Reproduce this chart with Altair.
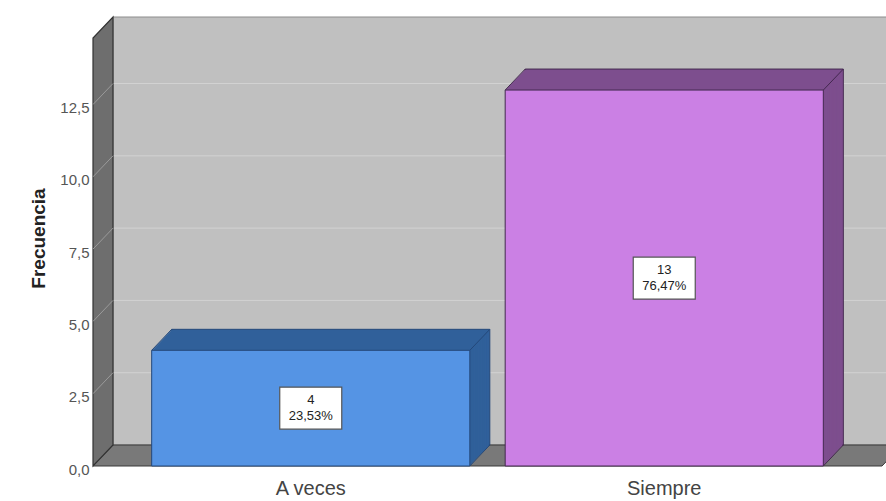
import altair as alt
import pandas as pd

# ---- data ----
categories = ["A veces", "Siempre"]
counts = [4, 13]
percent_labels = ["23,53%", "76,47%"]
front_colors = ["#5594E4", "#CB80E4"]
dark_colors = ["#30609A", "#7D4E8E"]
edge_colors = ["#24487A", "#43284F"]
tick_values = [0, 2.5, 5, 7.5, 10, 12.5]
grid_values = [2.5, 5, 7.5, 10, 12.5]

# ---- layout (pixels) ----
W, H = 789, 428          # front plane of the 3D box
DX, DY = 20, -21         # depth offset of the 3D effect
YMAX = 14.8
P_IN, P_OUT = 0.1, 0.166
step = W / (len(categories) - P_IN + 2 * P_OUT)
BW = step * (1 - P_IN)   # bar width in pixels
N = 21                   # extrusion steps
FONT = "Liberation Sans"

bars = pd.DataFrame({
    "cat": categories, "count": counts, "pct": percent_labels,
    "front": front_colors, "dark": dark_colors, "edge": edge_colors,
})
bars["mid"] = bars["count"] / 2
grid = pd.DataFrame({"v": grid_values})
one = pd.DataFrame({"k": [0]})

x_scale = alt.Scale(domain=categories, paddingInner=P_IN, paddingOuter=P_OUT)
y_scale = alt.Scale(domain=[0, YMAX], nice=False, zero=True)
x_axis = alt.Axis(title=None, domain=False, ticks=False, labelAngle=0,
                  labelFontSize=20, labelColor="#444", labelPadding=12,
                  labelFont=FONT)
y_axis = alt.Axis(title="Frecuencia", values=tick_values,
                  labelExpr="replace(format(datum.value, '.1f'), '.', ',')",
                  domain=False, ticks=False, grid=False, labelPadding=4,
                  labelOffset=3, labelFontSize=15, labelColor="#555",
                  labelFont=FONT, titleFont=FONT, titleFontSize=19,
                  titleFontWeight="bold", titleColor="#222",
                  titleX=-55, titleY=200, titleAngle=-90,
                  titleAlign="center", titleBaseline="middle")


def X():
    return alt.X("cat:N", scale=x_scale, axis=x_axis, sort=categories)


def Y(field):
    return alt.Y(field, type="quantitative", scale=y_scale, axis=y_axis)


def Y0():
    return alt.YDatum(0, scale=y_scale, axis=y_axis)


def poly(path, fill, stroke, sw=1):
    return alt.Chart(one).mark_point(
        shape=path, size=4, filled=True, opacity=1, fill=fill,
        stroke=stroke, strokeWidth=sw
    ).encode(x=alt.value(0), y=Y0())


back_wall = poly(f"M{DX},{DY} L{W + DX + 40},{DY} L{W + DX + 40},{DY - H} L{DX},{DY - H} Z",
                 "#C0C0C0", "#8C8C8C")
floor = poly(f"M0,0 L{DX},{DY} L{W + DX},{DY} L{W},0 Z", "#797979", "#3A3A3A")
left_wall = poly(f"M0,0 L0,{-H} L{DX},{DY - H} L{DX},{DY} Z", "#6E6E6E", "#333333", 1.2)

back_grid = alt.Chart(grid).mark_rule(
    color="#D2D2D2", strokeWidth=1,
    xOffset=DX, x2Offset=DX + 40, yOffset=DY, y2Offset=DY
).encode(x=alt.value(0), x2=alt.value("width"), y=Y("v"))

wall_ticks = alt.Chart(grid).mark_rule(
    color="#9A9A9A", strokeWidth=1, x2Offset=DX, y2Offset=DY
).encode(x=alt.value(0), x2=alt.value(0), y=Y("v"), y2=alt.Y2("v"))

layers = [back_wall, back_grid, floor, left_wall, wall_ticks]

# extrusion of each bar (top and side faces)
for i in range(N, 0, -1):
    t = i / N
    props = dict(xOffset=t * DX, yOffset=t * DY, y2Offset=t * DY)
    if i == N:
        props.update(strokeWidth=1)
        enc_stroke = alt.Stroke("edge:N", scale=None)
    else:
        props.update(strokeWidth=0)
        enc_stroke = alt.value(None)
    layers.append(
        alt.Chart(bars).mark_bar(**props).encode(
            x=X(), y=Y("count"), y2=alt.Y2Datum(0),
            fill=alt.Fill("dark:N", scale=None), stroke=enc_stroke)
    )

# front faces
layers.append(
    alt.Chart(bars).mark_bar(strokeWidth=1).encode(
        x=X(), y=Y("count"), y2=alt.Y2Datum(0),
        fill=alt.Fill("front:N", scale=None),
        stroke=alt.Stroke("edge:N", scale=None))
)

# slanted edges of the bars
for xo, field in [(BW / 2, "count"), (-BW / 2, "count")]:
    layers.append(
        alt.Chart(bars).mark_rule(strokeWidth=1, xOffset=xo, x2Offset=xo + DX, y2Offset=DY).encode(
            x=X(), x2=alt.X2("cat"), y=Y(field), y2=alt.Y2(field),
            color=alt.Color("edge:N", scale=None))
    )
layers.append(
    alt.Chart(bars).mark_rule(strokeWidth=1, xOffset=BW / 2, x2Offset=BW / 2 + DX, y2Offset=DY).encode(
        x=X(), x2=alt.X2("cat"), y=Y0(), y2=alt.Y2Datum(0),
        color=alt.Color("edge:N", scale=None))
)

# label boxes
layers.append(
    alt.Chart(bars).mark_point(
        shape="M-31,-21 L31,-21 L31,21 L-31,21 Z", size=4, filled=True,
        opacity=1, fill="white", stroke="#555", strokeWidth=1.2
    ).encode(x=X(), y=Y("mid"))
)
layers.append(
    alt.Chart(bars).mark_text(dy=-8, fontSize=13, font=FONT, color="#222").encode(
        x=X(), y=Y("mid"), text="count:Q")
)
layers.append(
    alt.Chart(bars).mark_text(dy=8, fontSize=13, font=FONT, color="#222").encode(
        x=X(), y=Y("mid"), text="pct:N")
)

chart = alt.layer(*layers).properties(
    width=W, height=H,
    padding={"left": 93, "top": 38, "right": 4, "bottom": 35},
    autosize="none",
    background="white",
).configure_view(stroke=None)

chart.save("out.html", embed_options={"renderer": "svg", "actions": False})
